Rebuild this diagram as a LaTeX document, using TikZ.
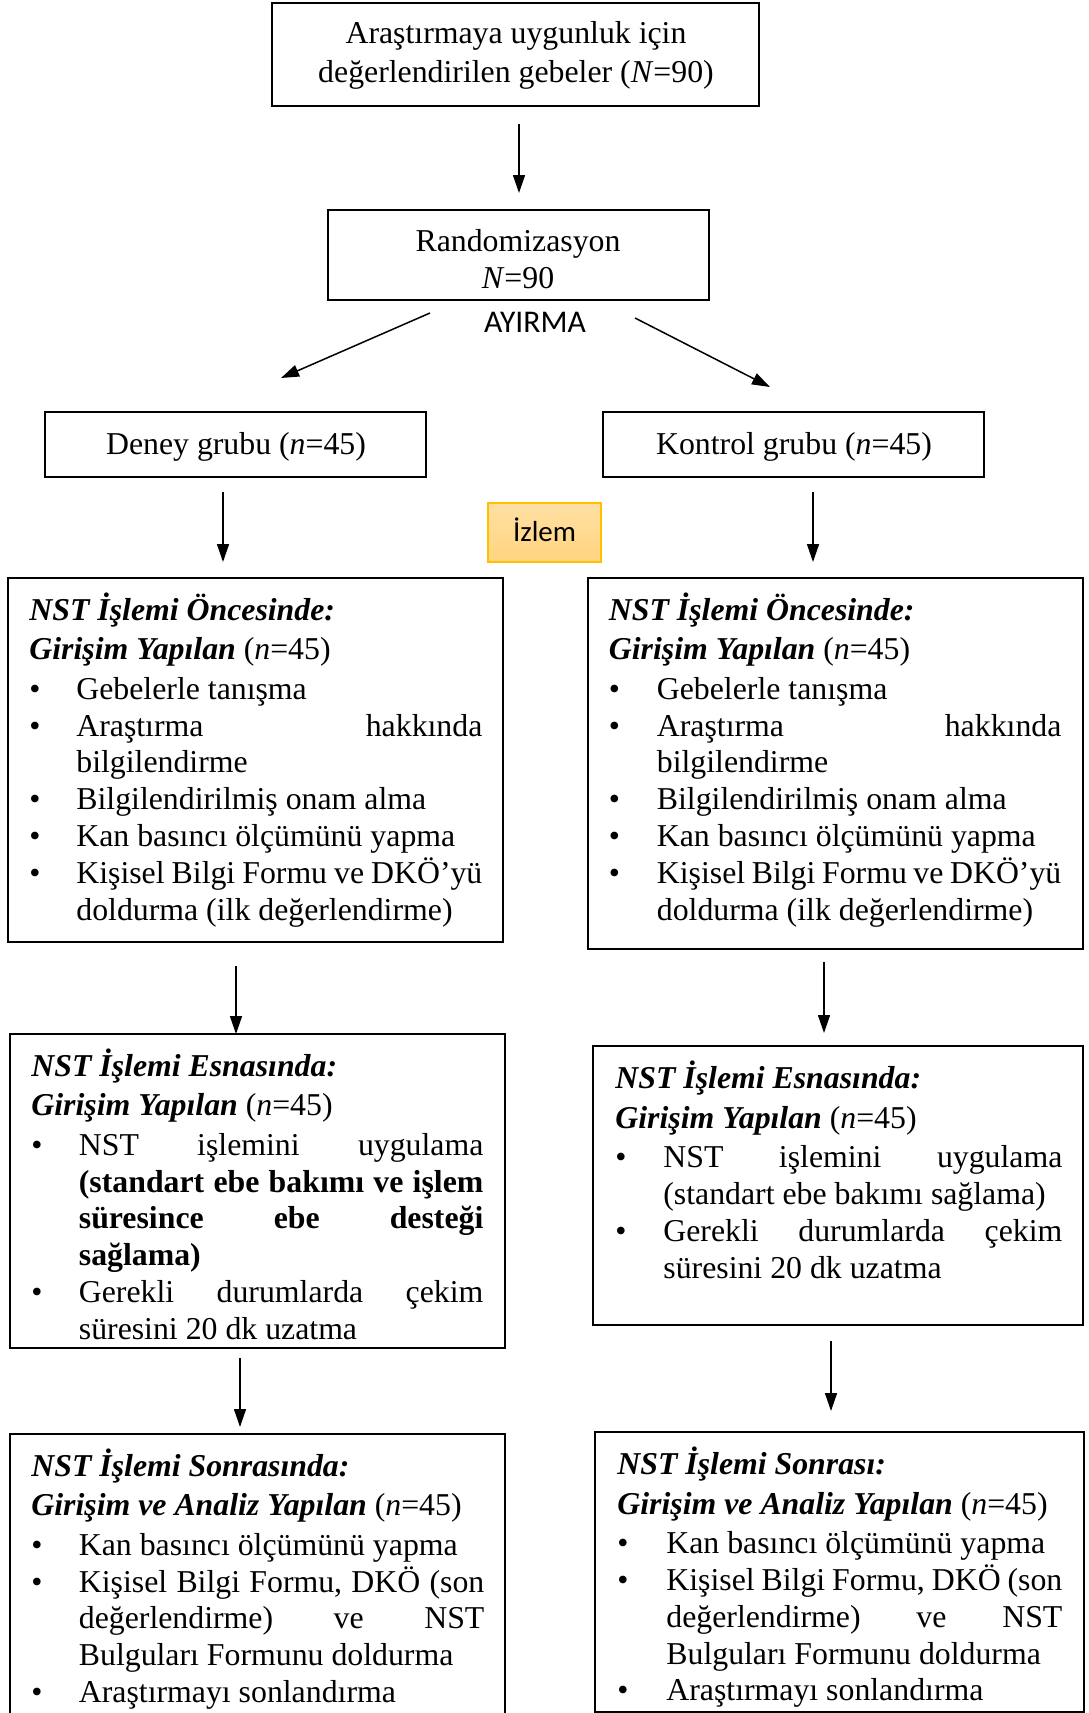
\documentclass[tikz,border=0pt]{standalone}
\usepackage{fontspec}
\setmainfont{Liberation Serif}
\newfontfamily\calib{Carlito}
\usetikzlibrary{arrows.meta,fit}
\newcommand\fs{\fontsize{15.9pt}{18.4pt}\selectfont}
\newcommand\hd[1]{\textbf{\textit{#1}}}
\newlength\bulw
\newcommand\bl{\makebox[\bulw][l]{\textbullet}}
\newcommand\ind{\hspace*{\bulw}}
\newcommand\Ln[1]{\hbox to \hsize{#1\hfil}}
\newcommand\hgap{\vspace{1.4pt}}
\newcommand\btext[3]{\begin{minipage}[t]{#1}\fs\setlength\bulw{#2}#3\end{minipage}}
\definecolor{izfill1}{HTML}{FFE0A3}
\definecolor{izfill2}{HTML}{FFD47E}
\definecolor{izdraw}{HTML}{FFC000}
\begin{document}
\begin{tikzpicture}[x=0.5pt,y=-0.5pt,
  box/.style={draw, line width=1pt, inner sep=0pt},
  arr/.style={-{Triangle[width=6pt,length=9pt]}, line width=0.75pt},
  txt/.style={inner sep=0pt, font=\fs},
  izbox/.style={draw=izdraw, top color=izfill1, bottom color=izfill2, line width=0.75pt, inner sep=0pt}]
\useasboundingbox (0,0) rectangle (1088,1713);
\fill[white] (0,0) rectangle (1088,1713);

% boxes
\node[box, fit={(272,3) (759,106)}] (top) {};
\node[box, fit={(328,210) (709,300)}] (rand) {};
\node[box, fit={(45,412) (426,477)}] (deney) {};
\node[box, fit={(603,412) (984,477)}] (kontrol) {};
\node[izbox, fit={(488,503) (601,562)}] (izlem) {};
\node[box, fit={(8,578) (503,942)}] (onL) {};
\node[box, fit={(588,578) (1083,949)}] (onR) {};
\node[box, fit={(10,1034) (505,1348)}] (esL) {};
\node[box, fit={(593,1046) (1083,1325)}] (esR) {};
\node[box, fit={(10,1434) (505,1740)}] (soL) {};
\node[box, fit={(595,1432) (1084,1712)}] (soR) {};

% texts
\node[txt, anchor=base] (toptext) at (516,43) {\begin{minipage}[t]{240pt}\centering\fontsize{15.9pt}{19.5pt}\selectfont Araştırmaya uygunluk için\\ değerlendirilen gebeler (\textit{N}=90)\end{minipage}};
\node[txt, anchor=base] (randtext) at (518,251) {\begin{minipage}[t]{150pt}\centering\fontsize{15.9pt}{18.5pt}\selectfont Randomizasyon\\ \textit{N}=90\end{minipage}};
\node[inner sep=0pt, anchor=base, font=\calib\fontsize{15.8pt}{18pt}\selectfont] (ayirma) at (535,332) {AYIRMA};
\node[txt, anchor=base] (deneytext) at (236,454) {Deney grubu (\textit{n}=45)};
\node[txt, anchor=base] (kontroltext) at (794,454) {Kontrol grubu (\textit{n}=45)};
\node[inner sep=0pt, anchor=base, font=\calib\fontsize{14.5pt}{17pt}\selectfont] (izlemtext) at (544.5,541.7) {İzlem};

\node[txt, anchor=base west] (onLtext) at (29,620) {\btext{226.5pt}{23.5pt}{%
\Ln{\hd{NST İşlemi Öncesinde:}}\hgap
\Ln{\hd{Girişim Yapılan} (\textit{n}=45)}\hgap
\Ln{\bl Gebelerle tanışma}
\Ln{\bl Araştırma\hfill hakkında}
\Ln{\ind bilgilendirme}
\Ln{\bl Bilgilendirilmiş onam alma}
\Ln{\bl Kan basıncı ölçümünü yapma}
\Ln{\bl Kişisel Bilgi Formu ve DKÖ’yü}
\Ln{\ind doldurma (ilk değerlendirme)}}};

\node[txt, anchor=base west] (onRtext) at (608.5,620) {\btext{226.25pt}{24pt}{%
\Ln{\hd{NST İşlemi Öncesinde:}}\hgap
\Ln{\hd{Girişim Yapılan} (\textit{n}=45)}\hgap
\Ln{\bl Gebelerle tanışma}
\Ln{\bl Araştırma\hfill hakkında}
\Ln{\ind bilgilendirme}
\Ln{\bl Bilgilendirilmiş onam alma}
\Ln{\bl Kan basıncı ölçümünü yapma}
\Ln{\bl Kişisel Bilgi Formu ve DKÖ’yü}
\Ln{\ind doldurma (ilk değerlendirme)}}};

\node[txt, anchor=base west] (esLtext) at (31,1076) {\btext{226pt}{23.75pt}{%
\Ln{\hd{NST İşlemi Esnasında:}}\hgap
\Ln{\hd{Girişim Yapılan} (\textit{n}=45)}\hgap
\Ln{\bl NST\hfill işlemini\hfill uygulama}
\Ln{\ind\textbf{(standart\hfill ebe\hfill bakımı\hfill ve\hfill işlem}}
\Ln{\ind\textbf{süresince\hfill ebe\hfill desteği}}
\Ln{\ind\textbf{sağlama)}}
\Ln{\bl Gerekli\hfill durumlarda\hfill çekim}
\Ln{\ind süresini 20 dk uzatma}}};

\node[txt, anchor=base west] (esRtext) at (615,1088.5) {\btext{223.5pt}{24pt}{%
\Ln{\hd{NST İşlemi Esnasında:}}\hgap
\Ln{\hd{Girişim Yapılan} (\textit{n}=45)}\hgap
\Ln{\bl NST\hfill işlemini\hfill uygulama}
\Ln{\ind (standart ebe bakımı sağlama)}
\Ln{\bl Gerekli\hfill durumlarda\hfill çekim}
\Ln{\ind süresini 20 dk uzatma}}};

\node[txt, anchor=base west] (soLtext) at (31,1476) {\btext{226.5pt}{23.75pt}{%
\Ln{\hd{NST İşlemi Sonrasında:}}\hgap
\Ln{\hd{Girişim ve Analiz Yapılan} (\textit{n}=45)}\hgap
\Ln{\bl Kan basıncı ölçümünü yapma}
\Ln{\bl Kişisel\hfill Bilgi\hfill Formu,\hfill DKÖ\hfill (son}
\Ln{\ind değerlendirme)\hfill ve\hfill NST}
\Ln{\ind Bulguları Formunu doldurma}
\Ln{\bl Araştırmayı sonlandırma}}};

\node[txt, anchor=base west] (soRtext) at (617,1474.5) {\btext{222.5pt}{24.5pt}{%
\Ln{\hd{NST İşlemi Sonrası:}}\hgap
\Ln{\hd{Girişim ve Analiz Yapılan} (\textit{n}=45)}\hgap
\Ln{\bl Kan basıncı ölçümünü yapma}
\Ln{\bl Kişisel\hfill Bilgi\hfill Formu,\hfill DKÖ\hfill (son}
\Ln{\ind değerlendirme)\hfill ve\hfill NST}
\Ln{\ind Bulguları Formunu doldurma}
\Ln{\bl Araştırmayı sonlandırma}}};

% connector end points
\coordinate (a1s) at (519,124);  \coordinate (a1e) at (519,193);
\coordinate (dLs) at (430,313);  \coordinate (dLe) at (281,378);
\coordinate (dRs) at (635,318);  \coordinate (dRe) at (770,387);
\coordinate (gLs) at (223,492);  \coordinate (gLe) at (223,562);
\coordinate (gRs) at (813,492);  \coordinate (gRe) at (813,562);
\coordinate (oLs) at (236,966);  \coordinate (oLe) at (236,1034);
\coordinate (oRs) at (824,962);  \coordinate (oRe) at (824,1033);
\coordinate (eLs) at (240,1358); \coordinate (eLe) at (240,1427);
\coordinate (eRs) at (831,1341); \coordinate (eRe) at (831,1411);

\draw[arr] (a1s) -- (a1e);
\draw[arr] (dLs) -- (dLe);
\draw[arr] (dRs) -- (dRe);
\draw[arr] (gLs) -- (gLe);
\draw[arr] (gRs) -- (gRe);
\draw[arr] (oLs) -- (oLe);
\draw[arr] (oRs) -- (oRe);
\draw[arr] (eLs) -- (eLe);
\draw[arr] (eRs) -- (eRe);
\end{tikzpicture}
\end{document}
